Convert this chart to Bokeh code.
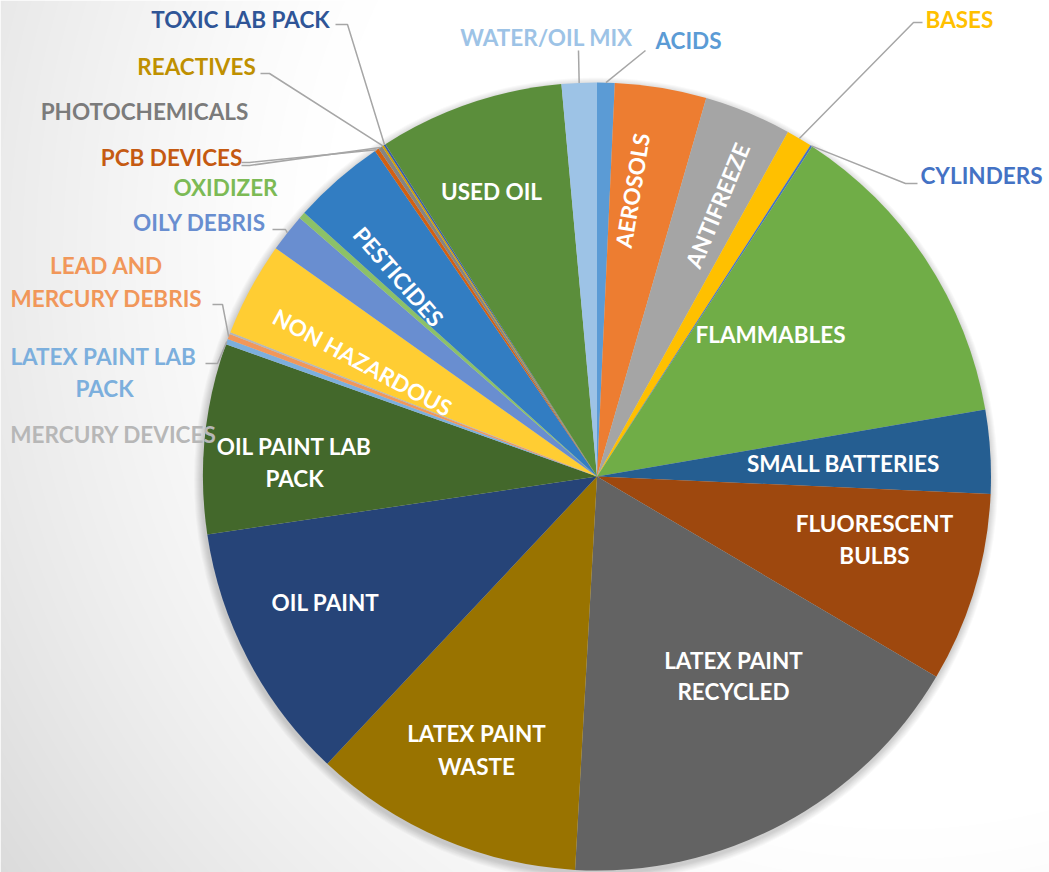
import numpy as np
from bokeh.plotting import figure
from bokeh.models import ColumnDataSource, Range1d
from bokeh.embed import file_html
from bokeh.resources import INLINE
from bokeh.core.properties import value

# ---------------- data (share of total, %) ----------------
categories = ["ACIDS", "AEROSOLS", "ANTIFREEZE", "BASES", "CYLINDERS", "FLAMMABLES",
              "SMALL BATTERIES", "FLUORESCENT BULBS", "LATEX PAINT RECYCLED",
              "LATEX PAINT WASTE", "OIL PAINT", "OIL PAINT LAB PACK",
              "LATEX PAINT LAB PACK", "LEAD AND MERCURY DEBRIS", "MERCURY DEVICES",
              "NON HAZARDOUS", "OILY DEBRIS", "OXIDIZER", "PESTICIDES", "PCB DEVICES",
              "PHOTOCHEMICALS", "REACTIVES", "TOXIC LAB PACK", "USED OIL", "WATER/OIL MIX"]
shares = [0.72, 3.75, 3.58, 1.06, 0.08, 13.08,
          3.42, 7.78, 17.39,
          11.11, 10.64, 7.80,
          0.22, 0.22, 0.08,
          3.86, 1.56, 0.28, 3.80, 0.17,
          0.17, 0.08, 0.08, 7.58, 1.44]
colors = ["#5B9BD5", "#ED7D31", "#A5A5A5", "#FFC000", "#4472C4", "#70AD47",
          "#255E91", "#9E480E", "#636363",
          "#997300", "#264478", "#43682B",
          "#7CAFDD", "#F1975A", "#B7B7B7",
          "#FFCD33", "#698ED0", "#8CC168", "#327DC2", "#D26012",
          "#848484", "#D5A000", "#3A5FA8", "#5B8E3B", "#9DC3E6"]

# ---------------- layout ----------------
W, H = 1049, 872
def X(rx):
    return rx
def Y(ry):
    return H - ry

CX, CY, R = X(596.5), Y(476), 394.0
FONT = value("Lato")
FS = "22.5px"

p = figure(width=W, height=H, x_range=Range1d(0, W), y_range=Range1d(0, H),
           output_backend="svg", toolbar_location=None, min_border=0)
p.axis.visible = False
p.grid.visible = False
p.outline_line_color = None
p.background_fill_color = "white"
p.border_fill_color = "white"

# soft grey backdrop (light vignette towards the left)
jj, ii = np.meshgrid(np.arange(W), np.arange(H))
rx = jj
ry = H - ii
d = np.sqrt((rx - 900.0) ** 2 + (ry - 250.0) ** 2)
t = np.clip((d - 580.0) / 520.0, 0, 1) ** 1.25
v = (255 - 36 * t).astype(np.uint8)
img = np.empty((H, W), dtype=np.uint32)
view = img.view(dtype=np.uint8).reshape((H, W, 4))
view[..., 0] = v
view[..., 1] = v
view[..., 2] = v
view[..., 3] = 255
p.image_rgba(image=[img], x=0, y=0, dw=W, dh=H)

# pie shadow
for k in range(1, 9):
    p.circle(x=CX - 1, y=CY - 3, radius=R + k, fill_color="black",
             fill_alpha=0.022, line_color=None)

# wedges
vals = np.array(shares, dtype=float)
frac = vals / vals.sum()
cum_end = np.cumsum(frac)
cum_start = cum_end - frac
theta_s = 2 * np.pi * cum_start
theta_e = 2 * np.pi * cum_end
src = ColumnDataSource(dict(cat=categories, color=colors,
                            start=np.pi / 2 - theta_s, end=np.pi / 2 - theta_e))
p.wedge(x=CX, y=CY, radius=R, start_angle="start", end_angle="end",
        direction="clock", fill_color="color", line_color=None, source=src)

mid = dict(zip(categories, (theta_s + theta_e) / 2))

def edge(cat):
    th = mid[cat]
    return CX + R * np.sin(th), CY + R * np.cos(th)

# ---------------- inner labels ----------------
inner = [
    ("USED OIL", 491, 191),
    ("FLAMMABLES", 770, 334),
    ("SMALL BATTERIES", 843, 463),
    ("FLUORESCENT", 874, 523), ("BULBS", 874, 555),
    ("LATEX PAINT", 733, 660), ("RECYCLED", 733, 691),
    ("LATEX PAINT", 476, 733), ("WASTE", 476, 766),
    ("OIL PAINT", 325, 602),
    ("OIL PAINT LAB", 294, 446), ("PACK", 294, 478),
]
p.text(x=[X(a[1]) for a in inner], y=[Y(a[2]) for a in inner], text=[a[0] for a in inner],
       text_font=FONT, text_font_style="bold", text_font_size=FS,
       text_color="white", text_align="center", text_baseline="middle")

# rotated (radial) inner labels
rot = [("AEROSOLS", "AEROSOLS", 632, 190),
       ("ANTIFREEZE", "ANTIFREEZE", 717, 205),
       ("NON HAZARDOUS", "NON HAZARDOUS", 362, 362),
       ("PESTICIDES", "PESTICIDES", 398, 276)]
for txt, cat, lx, ly in rot:
    ang = np.pi / 2 - mid[cat]
    if np.cos(ang) < 0:
        ang += np.pi
    p.text(x=[X(lx)], y=[Y(ly)], text=[txt], angle=ang,
           text_font=FONT, text_font_style="bold", text_font_size=FS,
           text_color="white", text_align="center", text_baseline="middle")

# ---------------- outer labels ----------------
outer = [
    ("WATER/OIL MIX", 546, 37, "#9DC3E6"),
    ("ACIDS", 688, 40, "#5B9BD5"),
    ("BASES", 959, 19, "#FFC000"),
    ("CYLINDERS", 981, 175, "#4472C4"),
    ("TOXIC LAB PACK", 240, 19, "#2F5597"),
    ("REACTIVES", 196, 66, "#BF9000"),
    ("PHOTOCHEMICALS", 144, 111, "#7B7B7B"),
    ("PCB DEVICES", 171, 157, "#C55A11"),
    ("OXIDIZER", 225, 187, "#7CBA55"),
    ("OILY DEBRIS", 199, 222, "#698ED0"),
    ("LEAD AND", 106, 265, "#F1975A"),
    ("MERCURY DEBRIS", 106, 298, "#F1975A"),
    ("LATEX PAINT LAB", 103, 356, "#7CAFDD"),
    ("PACK", 104, 388, "#7CAFDD"),
    ("MERCURY DEVICES", 113, 434, "#B7B7B7"),
]
p.text(x=[X(a[1]) for a in outer], y=[Y(a[2]) for a in outer], text=[a[0] for a in outer],
       text_color=[a[3] for a in outer],
       text_font=FONT, text_font_style="bold", text_font_size=FS,
       text_align="center", text_baseline="middle")

# leader lines: label-side points (reference px) then the slice edge
leaders = [
    ("WATER/OIL MIX", [(578, 50)]),
    ("ACIDS", [(645, 50)]),
    ("BASES", [(922, 22), (913, 22)]),
    ("CYLINDERS", [(917, 183), (905, 183)]),
    ("TOXIC LAB PACK", [(335, 24), (347, 24)]),
    ("REACTIVES", [(260, 73), (269, 73)]),
    ("PCB DEVICES", [(241, 162), (249, 162)]),
    ("PHOTOCHEMICALS", [(241, 165), (249, 165)]),
    ("OILY DEBRIS", [(272, 229), (285, 229)]),
    ("LEAD AND MERCURY DEBRIS", [(212, 304), (222, 304)]),
    ("LATEX PAINT LAB PACK", [(205, 363), (217, 363)]),
]
xs, ys = [], []
for cat, pts in leaders:
    ex, ey = edge(cat)
    xs.append([X(a) for a, b in pts] + [ex])
    ys.append([Y(b) for a, b in pts] + [ey])
p.multi_line(xs=xs, ys=ys, line_color="#A6A6A6", line_width=1.5)

open("out.html", "w").write(file_html(p, INLINE))
